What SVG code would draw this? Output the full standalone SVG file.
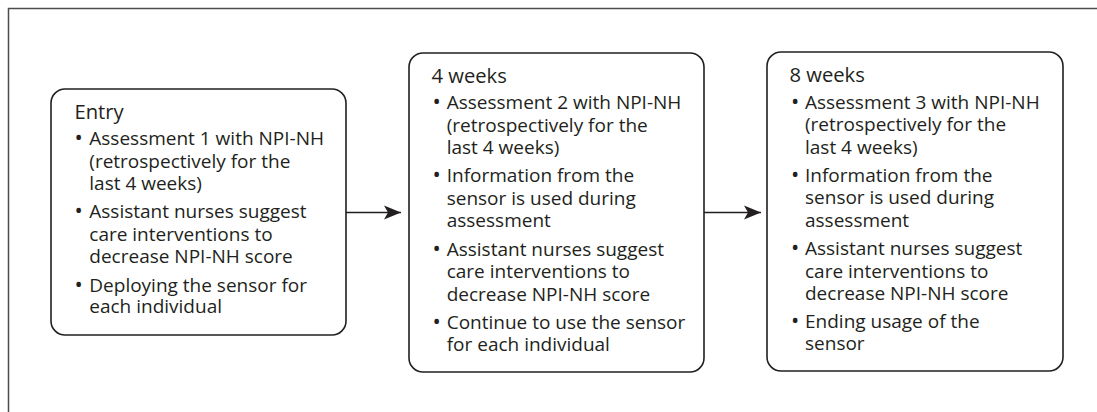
<svg xmlns="http://www.w3.org/2000/svg" width="1097" height="412" viewBox="0 0 1097 412">
<style>
.frame{fill:none;stroke:#4d4d4d;stroke-width:1.5}
.box{fill:#fff;stroke:#231f20;stroke-width:1.6}
.title{font-family:"Open Sans","Noto Sans",sans-serif;font-size:20.2px;fill:#231f20}
.t{font-family:"Open Sans","Noto Sans",sans-serif;font-size:19px;fill:#231f20}
.b{font-size:22px}
.conn{fill:none;stroke:#231f20;stroke-width:1.4}
</style>
<defs>
<marker id="ah" markerUnits="userSpaceOnUse" markerWidth="18" markerHeight="16" refX="17" refY="8" orient="auto">
<path d="M0,1 L17,8 L0,15 L4,8 Z" fill="#231f20"/>
</marker>
</defs>
<rect width="1097" height="412" fill="#fff"/>
<path class="frame" d="M8.5,412 V8.5 H1097"/>
<g id="connectors">
<line class="conn" x1="346" y1="212.5" x2="401" y2="212.5" marker-end="url(#ah)"/>
<line class="conn" x1="704" y1="212.5" x2="761" y2="212.5" marker-end="url(#ah)"/>
</g>
<g id="entry">
<rect class="box" x="51" y="89" width="295" height="246" rx="14"/>
<text class="title" x="74.5" y="119">Entry</text>
<text class="t"><tspan class="b" x="74.5" y="145">•</tspan><tspan x="89.3" y="145">Assessment 1 with NPI-NH</tspan><tspan x="89.3" y="167.7">(retrospectively for the</tspan><tspan x="89.3" y="190.3">last 4 weeks)</tspan></text>
<text class="t"><tspan class="b" x="74.5" y="218.3">•</tspan><tspan x="89.3" y="218.3">Assistant nurses suggest</tspan><tspan x="89.3" y="241">care interventions to</tspan><tspan x="89.3" y="263.3">decrease NPI-NH score</tspan></text>
<text class="t"><tspan class="b" x="74.5" y="291.7">•</tspan><tspan x="89.3" y="291.7">Deploying the sensor for</tspan><tspan x="89.3" y="313.3">each individual</tspan></text>
</g>
<g id="week4">
<rect class="box" x="409" y="53" width="295" height="319" rx="14"/>
<text class="title" x="431.5" y="82.7">4 weeks</text>
<text class="t"><tspan class="b" x="432.5" y="109">•</tspan><tspan x="446.7" y="109">Assessment 2 with NPI-NH</tspan><tspan x="446.7" y="131.7">(retrospectively for the</tspan><tspan x="446.7" y="154">last 4 weeks)</tspan></text>
<text class="t"><tspan class="b" x="432.5" y="182.3">•</tspan><tspan x="446.7" y="182.3">Information from the</tspan><tspan x="446.7" y="205">sensor is used during</tspan><tspan x="446.7" y="227.3">assessment</tspan></text>
<text class="t"><tspan class="b" x="432.5" y="255.7">•</tspan><tspan x="446.7" y="255.7">Assistant nurses suggest</tspan><tspan x="446.7" y="278.3">care interventions to</tspan><tspan x="446.7" y="300.7">decrease NPI-NH score</tspan></text>
<text class="t"><tspan class="b" x="432.5" y="329">•</tspan><tspan x="446.7" y="329">Continue to use the sensor</tspan><tspan x="446.7" y="350.7">for each individual</tspan></text>
</g>
<g id="week8">
<rect class="box" x="767" y="52" width="296" height="319" rx="14"/>
<text class="title" x="789.5" y="82">8 weeks</text>
<text class="t"><tspan class="b" x="791" y="108.5">•</tspan><tspan x="805" y="108.5">Assessment 3 with NPI-NH</tspan><tspan x="805" y="131">(retrospectively for the</tspan><tspan x="805" y="153.5">last 4 weeks)</tspan></text>
<text class="t"><tspan class="b" x="791" y="181.5">•</tspan><tspan x="805" y="181.5">Information from the</tspan><tspan x="805" y="204">sensor is used during</tspan><tspan x="805" y="226.5">assessment</tspan></text>
<text class="t"><tspan class="b" x="791" y="255">•</tspan><tspan x="805" y="255">Assistant nurses suggest</tspan><tspan x="805" y="277.5">care interventions to</tspan><tspan x="805" y="300">decrease NPI-NH score</tspan></text>
<text class="t"><tspan class="b" x="791" y="328">•</tspan><tspan x="805" y="328">Ending usage of the</tspan><tspan x="805" y="350">sensor</tspan></text>
</g>
</svg>
